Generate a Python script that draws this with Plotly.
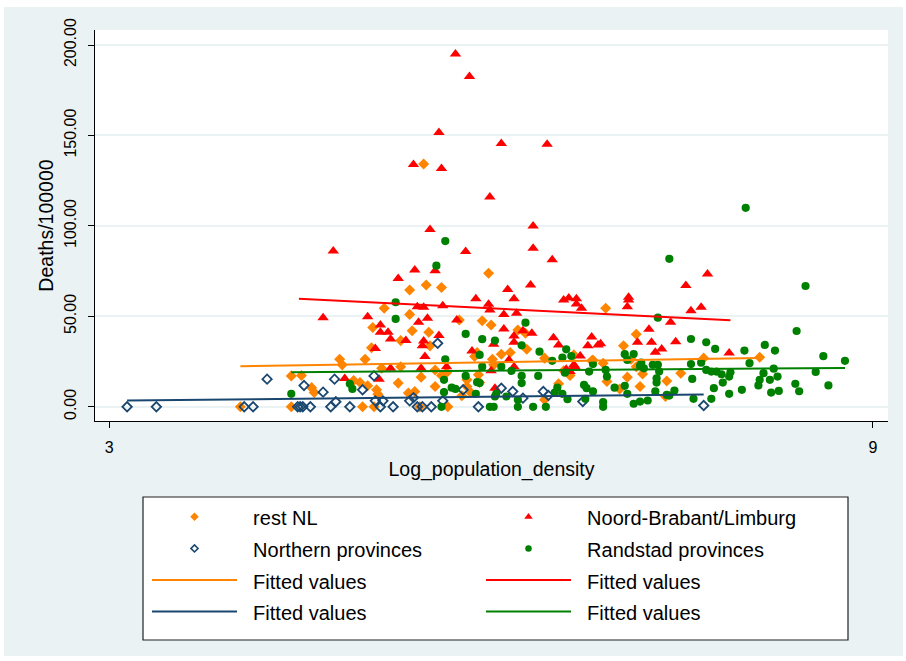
import plotly.graph_objects as go

# (log population density, deaths per 100000) for each municipality, by region group
rest_nl = [
    (4.03, 0.0), (4.43, 17.1), (4.51, 17.3), (4.43, 0.0), (4.59, 10.6), (4.61, 7.9),
    (4.81, 26.3), (4.83, 23.2), (4.92, 14.5), (4.97, 13.4), (4.99, 0.0), (5.01, 26.3),
    (5.03, 11.6), (5.06, 32.7), (5.07, 43.8), (5.08, 0.0), (5.10, 9.4), (5.11, 7.0),
    (5.14, 21.3), (5.16, 54.5), (5.27, 13.1), (5.29, 36.6), (5.29, 22.2), (5.35, 7.6),
    (5.36, 51.1), (5.36, 64.6), (5.38, 42.1), (5.40, 8.4), (5.44, 0.0), (5.45, 16.4),
    (5.47, 134.2), (5.49, 67.3), (5.51, 41.2), (5.52, 33.7), (5.56, 11.2), (5.56, 20.4),
    (5.61, 66.0), (5.61, 17.3), (5.65, 18.9), (5.66, 0.0), (5.75, 48.0), (5.77, 6.1),
    (5.81, 11.2), (5.81, 14.9), (5.84, 7.9), (5.87, 27.8), (5.89, 30.0), (5.90, 17.7),
    (5.91, 13.4), (5.93, 47.6), (5.98, 73.8), (6.00, 45.2), (6.01, 26.3), (6.02, 23.2),
    (6.08, 29.1), (6.15, 30.0), (6.21, 42.5), (6.27, 40.7), (6.28, 31.8), (6.42, 26.9),
    (6.42, 3.9), (6.53, 12.7), (6.57, 19.9), (6.62, 17.3), (6.65, 28.7), (6.80, 25.9),
    (6.79, 25.4), (6.88, 24.1), (6.90, 54.5), (6.91, 14.0), (7.01, 9.8), (7.04, 33.8),
    (7.07, 16.4), (7.10, 26.3), (7.14, 40.1), (7.14, 22.2), (7.17, 11.2), (7.19, 18.2),
    (7.37, 5.7), (7.38, 14.3), (7.49, 18.6), (7.67, 26.9), (8.11, 27.4),
]

noord_brabant_limburg = [
    (5.72, 195.1), (5.83, 182.6), (5.59, 151.6), (6.08, 145.5), (6.44, 145.1), (5.39, 133.9),
    (5.61, 131.7), (5.99, 116.0), (5.52, 98.0), (6.33, 100.0), (4.76, 86.2), (5.80, 85.9),
    (6.33, 87.6), (6.48, 81.3), (5.40, 75.6), (5.27, 71.0), (5.56, 75.2), (6.13, 64.9),
    (6.31, 67.3), (5.88, 59.8), (6.18, 59.8), (6.57, 59.0), (6.61, 60.1), (6.67, 59.8),
    (6.67, 56.8), (6.71, 54.5), (5.98, 56.7), (5.62, 55.9), (5.42, 55.3), (5.47, 55.0),
    (4.68, 49.3), (5.03, 49.8), (5.13, 45.2), (5.43, 46.7), (5.50, 48.9), (5.13, 41.2),
    (5.19, 41.2), (5.21, 37.5), (5.33, 36.6), (5.47, 36.4), (5.46, 33.8), (5.09, 32.2),
    (5.48, 27.8), (5.21, 21.3), (5.45, 21.3), (4.85, 15.6), (5.12, 15.3), (5.59, 39.4),
    (5.65, 22.2), (5.73, 48.0), (5.85, 30.9), (6.03, 10.3), (6.00, 20.0), (6.02, 34.6),
    (6.10, 43.0), (6.18, 39.2), (6.20, 51.7), (6.10, 51.1), (5.99, 53.5), (6.18, 35.7),
    (6.25, 42.1), (6.32, 40.7), (6.49, 38.2), (6.53, 34.2), (6.70, 28.1), (6.76, 33.7),
    (6.79, 38.6), (6.65, 23.2), (6.62, 19.5), (6.84, 34.2), (6.14, 25.9), (6.18, 22.2),
    (6.59, 20.8), (6.66, 22.2), (7.07, 55.3), (7.08, 59.0), (7.57, 53.1), (7.65, 55.0),
    (7.41, 46.7), (7.24, 42.9), (6.86, 34.8), (7.15, 35.7), (7.26, 35.7), (7.45, 36.0),
    (7.29, 30.2), (7.34, 32.0), (7.70, 73.4), (7.53, 67.1), (7.08, 60.5), (7.87, 29.8),
]

northern_provinces = [
    (3.14, 0.0), (3.37, 0.0), (4.06, 0.0), (4.13, 0.0), (4.24, 15.3), (4.48, 0.0),
    (4.50, 0.0), (4.52, 0.0), (4.58, 0.0), (4.53, 11.8), (4.68, 8.1), (4.74, 0.0),
    (4.77, 15.3), (4.78, 2.8), (4.89, 0.0), (4.99, 9.4), (5.08, 17.1), (5.09, 3.3),
    (5.15, 3.3), (5.13, 0.0), (5.23, 0.0), (5.36, 3.3), (5.39, 5.1), (5.42, 0.0),
    (5.46, 0.0), (5.53, 0.0), (5.58, 35.1), (5.62, 3.3), (5.78, 9.4), (5.90, 0.0),
    (6.08, 10.3), (6.17, 8.5), (6.25, 4.8), (6.41, 8.5), (6.45, 6.3), (6.72, 2.9),
    (7.67, 0.7),
]

randstad_provinces = [
    (5.64, 91.6), (5.57, 78.0), (5.25, 57.8), (5.25, 48.6), (5.80, 40.3), (5.93, 37.4),
    (6.03, 36.6), (5.91, 28.7), (6.27, 46.5), (6.24, 34.0), (6.38, 30.5), (6.59, 31.8),
    (6.56, 27.2), (6.63, 28.1), (6.48, 25.4), (6.80, 23.6), (6.77, 19.5), (5.64, 26.3),
    (5.93, 22.2), (6.08, 22.2), (6.16, 19.9), (6.24, 17.1), (6.24, 13.1), (6.37, 17.1),
    (5.63, 14.9), (5.80, 17.1), (5.69, 10.6), (5.72, 9.9), (5.63, 8.1), (5.89, 13.6),
    (5.91, 13.1), (5.88, 7.2), (4.89, 12.7), (4.91, 9.9), (4.43, 7.2), (5.99, 0.0),
    (6.02, 0.0), (5.61, 0.0), (6.04, 7.2), (6.03, 5.7), (6.12, 5.7), (6.21, 3.9),
    (6.21, 0.0), (6.33, 0.0), (6.43, 0.0), (6.50, 7.9), (6.52, 10.6), (6.56, 7.2),
    (6.60, 4.2), (6.73, 12.1), (6.75, 10.3), (6.80, 8.5), (6.58, 18.9), (7.31, 49.3),
    (7.57, 37.5), (7.69, 35.7), (7.76, 32.0), (7.05, 29.1), (7.12, 29.2), (7.07, 25.9),
    (7.18, 24.4), (7.17, 22.6), (7.20, 21.3), (7.27, 23.2), (7.31, 23.2), (7.32, 19.5),
    (7.30, 15.8), (7.30, 13.4), (7.57, 23.6), (7.69, 20.4), (7.73, 19.5), (7.77, 19.5),
    (7.58, 15.4), (7.75, 10.3), (7.73, 4.4), (7.59, 4.4), (6.90, 20.4), (6.91, 16.7),
    (6.97, 10.6), (7.05, 11.6), (7.07, 7.2), (7.29, 8.5), (7.44, 9.0), (7.38, 6.6),
    (7.40, 6.2), (7.23, 3.5), (7.17, 2.9), (7.12, 1.7), (6.88, 2.6), (6.88, 0.0),
    (6.74, 4.4), (8.00, 110.0), (7.40, 81.8), (8.47, 66.8), (8.40, 41.9), (7.99, 31.1),
    (8.15, 34.2), (8.23, 31.1), (8.03, 24.1), (8.61, 28.0), (8.78, 25.4), (8.22, 21.1),
    (8.14, 18.6), (8.55, 19.3), (8.25, 16.7), (8.19, 14.9), (8.11, 14.9), (8.10, 11.8),
    (8.39, 12.7), (8.42, 8.6), (8.26, 8.8), (8.20, 7.9), (8.65, 11.8), (7.97, 9.4),
    (7.87, 7.2), (7.81, 18.0), (7.88, 19.1), (7.87, 16.7), (7.65, 24.4), (7.82, 13.4),
]

# Linear fits per group: (x, fitted value) at both ends of the group's x range
fit_rest_nl = [(4.03, 22.4), (8.11, 27.0)]
fit_noord_brabant_limburg = [(4.49, 59.8), (7.88, 47.8)]
fit_northern_provinces = [(3.14, 3.5), (7.67, 6.8)]
fit_randstad_provinces = [(4.43, 19.1), (8.78, 21.5)]

y_ticks = [0, 50, 100, 150, 200]
y_tick_labels = ["0.00", "50.00", "100.00", "150.00", "200.00"]
x_ticks = [3, 9]
x_tick_labels = ["3", "9"]

ORANGE = "#ff8400"
RED = "#ff0000"
NAVY = "#1a476f"
GREEN = "#008000"
BG = "#eaf2f3"
FONT = "Liberation Sans, Arial, sans-serif"

W, H = 906, 661
ML, MR, MT, MB = 95, 18, 30, 240
PW = W - ML - MR
PH = H - MT - MB


def paper_x(px):
    return (px - ML) / PW


def paper_y(py):
    return (H - MB - py) / PH


def xs(pairs):
    return [p[0] for p in pairs]


def ys(pairs):
    return [p[1] for p in pairs]


fig = go.Figure()

groups = [
    (rest_nl, dict(symbol="diamond", size=8.5, color=ORANGE, line=dict(width=0))),
    (noord_brabant_limburg, dict(symbol="triangle-up", size=10, color=RED, line=dict(width=0))),
    (northern_provinces, dict(symbol="diamond-open", size=7.2, color=NAVY, line=dict(width=1.8, color=NAVY))),
    (randstad_provinces, dict(symbol="circle", size=8.2, color=GREEN, line=dict(width=0))),
]
for pts, mk in groups:
    fig.add_trace(go.Scatter(x=xs(pts), y=ys(pts), mode="markers", marker=mk,
                             showlegend=False, hoverinfo="skip"))

fits = [
    (fit_rest_nl, ORANGE),
    (fit_noord_brabant_limburg, RED),
    (fit_northern_provinces, NAVY),
    (fit_randstad_provinces, GREEN),
]
for pts, col in fits:
    fig.add_trace(go.Scatter(x=xs(pts), y=ys(pts), mode="lines", line=dict(color=col, width=2),
                             showlegend=False, hoverinfo="skip"))


def legend_name(text):
    return '<span style="font-size:20px">\u00a0\u00a0' + text + "</span>"


legend_entries = [
    ("rest NL", dict(mode="markers", marker=dict(symbol="diamond", size=6.5, color=ORANGE, line=dict(width=0)))),
    ("Noord-Brabant/Limburg", dict(mode="markers", marker=dict(symbol="triangle-up", size=7.5, color=RED, line=dict(width=0)))),
    ("Northern provinces", dict(mode="markers", marker=dict(symbol="diamond-open", size=5.5, color=NAVY, line=dict(width=1.6, color=NAVY)))),
    ("Randstad provinces", dict(mode="markers", marker=dict(symbol="circle", size=6.5, color=GREEN, line=dict(width=0)))),
    ("Fitted values", dict(mode="lines", line=dict(color=ORANGE, width=2))),
    ("Fitted values", dict(mode="lines", line=dict(color=RED, width=2))),
    ("Fitted values", dict(mode="lines", line=dict(color=NAVY, width=2))),
    ("Fitted values", dict(mode="lines", line=dict(color=GREEN, width=2))),
]
for name, style in legend_entries:
    fig.add_trace(go.Scatter(x=[None], y=[None], name=legend_name(name), showlegend=True,
                             hoverinfo="skip", **style))

shapes = [
    # white outer frame
    dict(type="rect", xref="paper", yref="paper", x0=paper_x(0), x1=paper_x(4), y0=paper_y(H), y1=paper_y(0),
         fillcolor="white", line=dict(width=0), layer="above"),
    dict(type="rect", xref="paper", yref="paper", x0=paper_x(903), x1=paper_x(W), y0=paper_y(H), y1=paper_y(0),
         fillcolor="white", line=dict(width=0), layer="above"),
    dict(type="rect", xref="paper", yref="paper", x0=paper_x(0), x1=paper_x(W), y0=paper_y(7), y1=paper_y(0),
         fillcolor="white", line=dict(width=0), layer="above"),
    dict(type="rect", xref="paper", yref="paper", x0=paper_x(0), x1=paper_x(W), y0=paper_y(H), y1=paper_y(656),
         fillcolor="white", line=dict(width=0), layer="above"),
    # legend box
    dict(type="rect", xref="paper", yref="paper", x0=paper_x(143), x1=paper_x(848), y0=paper_y(640), y1=paper_y(497),
         fillcolor="white", line=dict(width=1.2, color="#222222"), layer="above"),
]

fig.update_layout(
    width=W, height=H,
    margin=dict(l=ML, r=MR, t=MT, b=MB, pad=0),
    paper_bgcolor=BG,
    plot_bgcolor="white",
    font=dict(family=FONT, color="black"),
    shapes=shapes,
    showlegend=True,
    legend=dict(
        orientation="h",
        x=paper_x(147), y=paper_y(496), xanchor="left", yanchor="top",
        bgcolor="rgba(0,0,0,0)", borderwidth=0,
        font=dict(family=FONT, size=22, color="black"),
        itemwidth=85, entrywidth=234, entrywidthmode="pixels",
        traceorder="normal", itemclick=False, itemdoubleclick=False,
    ),
    xaxis=dict(
        range=[2.888, 9.118], tickvals=x_ticks, ticktext=x_tick_labels,
        ticks="outside", ticklen=6, tickwidth=1, tickcolor="black",
        showline=True, linecolor="black", linewidth=1,
        showgrid=False, zeroline=False, automargin=False,
        tickfont=dict(size=16, family=FONT, color="black"), ticklabelstandoff=6,
        title=dict(text="Log_population_density", font=dict(size=19.5, family=FONT, color="black"), standoff=7),
    ),
    yaxis=dict(
        range=[-7.84, 208.3], tickvals=y_ticks, ticktext=y_tick_labels, tickangle=-90,
        ticks="outside", ticklen=6, tickwidth=1, tickcolor="black",
        showline=True, linecolor="black", linewidth=1,
        showgrid=True, gridcolor=BG, gridwidth=1.5, zeroline=False, automargin=False,
        tickfont=dict(size=16, family=FONT, color="black"), ticklabelstandoff=6,
        title=dict(text="Deaths/100000", font=dict(size=19.5, family=FONT, color="black"), standoff=2),
    ),
)

fig.write_html("out.html")
